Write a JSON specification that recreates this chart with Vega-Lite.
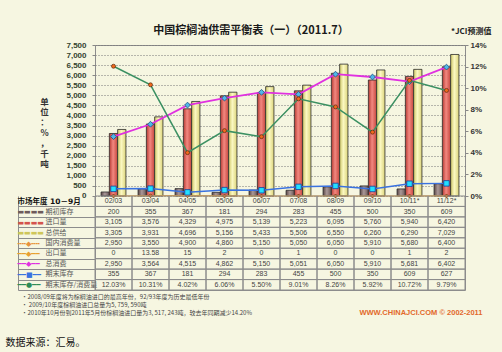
{
"$schema":"https://vega.github.io/schema/vega-lite/v6.json",
"width":370,"height":245,
"autosize":{"type":"none"},
"padding":{"left":95,"top":45,"right":37,"bottom":62},
"background":"#f6f6e1",
"title":{"text":"中国棕榈油供需平衡表（一）（2011.7）","font":"Noto Sans CJK SC","fontSize":11,"fontWeight":"bold","color":"#1a1a1a","anchor":"middle","dx":-29,"dy":15,"offset":6,"frame":"group"},
"config":{"view":{"fill":"#f6f6e1","stroke":"#8c8c8c","strokeWidth":1},"axis":{"labelFont":"Liberation Sans","titleFont":"Noto Sans CJK SC"}},
"datasets":{"d":[
{"年度":"02/03","项目":"期初库存","值":200},{"年度":"03/04","项目":"期初库存","值":355},{"年度":"04/05","项目":"期初库存","值":367},{"年度":"05/06","项目":"期初库存","值":181},{"年度":"06/07","项目":"期初库存","值":294},{"年度":"07/08","项目":"期初库存","值":283},{"年度":"08/09","项目":"期初库存","值":455},{"年度":"09/10","项目":"期初库存","值":500},{"年度":"10/11*","项目":"期初库存","值":350},{"年度":"11/12*","项目":"期初库存","值":609},
{"年度":"02/03","项目":"进口量","值":3105},{"年度":"03/04","项目":"进口量","值":3576},{"年度":"04/05","项目":"进口量","值":4329},{"年度":"05/06","项目":"进口量","值":4975},{"年度":"06/07","项目":"进口量","值":5139},{"年度":"07/08","项目":"进口量","值":5223},{"年度":"08/09","项目":"进口量","值":6095},{"年度":"09/10","项目":"进口量","值":5760},{"年度":"10/11*","项目":"进口量","值":5940},{"年度":"11/12*","项目":"进口量","值":6420},
{"年度":"02/03","项目":"总供给","值":3305},{"年度":"03/04","项目":"总供给","值":3931},{"年度":"04/05","项目":"总供给","值":4696},{"年度":"05/06","项目":"总供给","值":5156},{"年度":"06/07","项目":"总供给","值":5433},{"年度":"07/08","项目":"总供给","值":5506},{"年度":"08/09","项目":"总供给","值":6550},{"年度":"09/10","项目":"总供给","值":6260},{"年度":"10/11*","项目":"总供给","值":6290},{"年度":"11/12*","项目":"总供给","值":7029},
{"年度":"02/03","项目":"国内消费量","值":2950},{"年度":"03/04","项目":"国内消费量","值":3550},{"年度":"04/05","项目":"国内消费量","值":4900},{"年度":"05/06","项目":"国内消费量","值":4860},{"年度":"06/07","项目":"国内消费量","值":5150},{"年度":"07/08","项目":"国内消费量","值":5050},{"年度":"08/09","项目":"国内消费量","值":6050},{"年度":"09/10","项目":"国内消费量","值":5910},{"年度":"10/11*","项目":"国内消费量","值":5680},{"年度":"11/12*","项目":"国内消费量","值":6400},
{"年度":"02/03","项目":"出口量","值":0},{"年度":"03/04","项目":"出口量","值":13.58},{"年度":"04/05","项目":"出口量","值":15},{"年度":"05/06","项目":"出口量","值":2},{"年度":"06/07","项目":"出口量","值":0},{"年度":"07/08","项目":"出口量","值":1},{"年度":"08/09","项目":"出口量","值":0},{"年度":"09/10","项目":"出口量","值":0},{"年度":"10/11*","项目":"出口量","值":1},{"年度":"11/12*","项目":"出口量","值":2},
{"年度":"02/03","项目":"总消费","值":2950},{"年度":"03/04","项目":"总消费","值":3564},{"年度":"04/05","项目":"总消费","值":4515},{"年度":"05/06","项目":"总消费","值":4862},{"年度":"06/07","项目":"总消费","值":5150},{"年度":"07/08","项目":"总消费","值":5051},{"年度":"08/09","项目":"总消费","值":6050},{"年度":"09/10","项目":"总消费","值":5910},{"年度":"10/11*","项目":"总消费","值":5681},{"年度":"11/12*","项目":"总消费","值":6402},
{"年度":"02/03","项目":"期末库存","值":355},{"年度":"03/04","项目":"期末库存","值":367},{"年度":"04/05","项目":"期末库存","值":181},{"年度":"05/06","项目":"期末库存","值":294},{"年度":"06/07","项目":"期末库存","值":283},{"年度":"07/08","项目":"期末库存","值":455},{"年度":"08/09","项目":"期末库存","值":500},{"年度":"09/10","项目":"期末库存","值":350},{"年度":"10/11*","项目":"期末库存","值":609},{"年度":"11/12*","项目":"期末库存","值":627},
{"年度":"02/03","项目":"期末库存/消费量","值":0.1203},{"年度":"03/04","项目":"期末库存/消费量","值":0.1031},{"年度":"04/05","项目":"期末库存/消费量","值":0.0402},{"年度":"05/06","项目":"期末库存/消费量","值":0.0606},{"年度":"06/07","项目":"期末库存/消费量","值":0.055},{"年度":"07/08","项目":"期末库存/消费量","值":0.0901},{"年度":"08/09","项目":"期末库存/消费量","值":0.0826},{"年度":"09/10","项目":"期末库存/消费量","值":0.0592},{"年度":"10/11*","项目":"期末库存/消费量","值":0.1072},{"年度":"11/12*","项目":"期末库存/消费量","值":0.0979}
]},
"data":{"name":"d"},
"resolve":{"scale":{"x":"independent","y":"independent"}},
"layer":[
{
"encoding":{
"x":{"field":"年度","type":"nominal","scale":{"type":"band","domain":["02/03","03/04","04/05","05/06","06/07","07/08","08/09","09/10","10/11*","11/12*"],"paddingInner":0,"paddingOuter":0},
"axis":{"orient":"bottom","labels":false,"ticks":false,"domain":false,"grid":false,"title":["•2008/09年度将为棕榈油进口的最高年份，92/93年度为历史最低年份","• 2009/10年度棕榈油进口总量为5, 759, 590吨","•2010年10月份到2011年5月份棕榈油进口量为3, 517, 243吨，较去年同期减少14.20%"],"titleX":-74,"titleY":3,"titleAlign":"left","titleAnchor":"start","titleBaseline":"top","titleFontSize":6,"titleFontWeight":"normal","titleLineHeight":8,"titleColor":"#444"}},
"y":{"field":"值","type":"quantitative","scale":{"domain":[-4669,7500],"nice":false,"zero":false},
"axis":{"orient":"left","values":[0,500,1000,1500,2000,2500,3000,3500,4000,4500,5000,5500,6000,6500,7000,7500],"format":",d","domain":false,"tickSize":3,"tickColor":"#888","labelPadding":6,"labelFontSize":8,"labelFontWeight":"bold","labelColor":"#34432f","grid":true,"gridDash":[1,2],"gridColor":"#777","gridOpacity":1,
"title":["单","位","：","%","，","千","吨"],"titleAngle":0,"titleX":-51,"titleY":52,"titleAlign":"center","titleBaseline":"top","titleFontSize":8.5,"titleLineHeight":10.4,"titleFontWeight":"bold","titleColor":"#333"}}
},
"layer":[
{"transform":[{"filter":"datum['项目']==='期初库存'"}],"mark":{"type":"bar","color":{"gradient":"linear","x1":0,"x2":1,"y1":0,"y2":0,"stops":[{"offset":0,"color":"#5a4646"},{"offset":0.45,"color":"#aa9898"},{"offset":1,"color":"#6a5656"}]},"stroke":"#2b2b2b","strokeWidth":0.8},
"encoding":{"xOffset":{"field":"项目","type":"nominal","scale":{"domain":["期初库存","进口量","总供给"],"paddingInner":0,"paddingOuter":0.73}},"y2":{"datum":0}}},
{"transform":[{"filter":"datum['项目']==='进口量'"}],"mark":{"type":"bar","color":{"gradient":"linear","x1":0,"x2":1,"y1":0,"y2":0,"stops":[{"offset":0,"color":"#b63a33"},{"offset":0.45,"color":"#f28880"},{"offset":1,"color":"#c6463e"}]},"stroke":"#2b2b2b","strokeWidth":0.8},
"encoding":{"xOffset":{"field":"项目","type":"nominal"},"y2":{"datum":0}}},
{"transform":[{"filter":"datum['项目']==='总供给'"}],"mark":{"type":"bar","color":{"gradient":"linear","x1":0,"x2":1,"y1":0,"y2":0,"stops":[{"offset":0,"color":"#cfc768"},{"offset":0.45,"color":"#fbf8c2"},{"offset":1,"color":"#dcd47a"}]},"stroke":"#2b2b2b","strokeWidth":0.8},
"encoding":{"xOffset":{"field":"项目","type":"nominal"},"y2":{"datum":0}}},
{"transform":[{"filter":"datum['项目']==='出口量'"}],"mark":{"type":"line","color":"#f0a030","strokeWidth":1.2,"point":{"shape":"diamond","filled":true,"fill":"#e8701c","stroke":"#4a2a10","strokeWidth":0.6,"size":16}}},
{"transform":[{"filter":"datum['项目']==='总消费'"}],"mark":{"type":"line","color":"#e030e0","strokeWidth":1.8,"point":{"shape":"diamond","filled":true,"fill":"#4fb8e8","stroke":"#1d4f80","strokeWidth":0.8,"size":34}}},
{"transform":[{"filter":"datum['项目']==='期末库存'"}],"mark":{"type":"line","color":"#3a72e0","strokeWidth":1.5,"point":{"shape":"square","filled":true,"fill":"#22e0ff","stroke":"#1040a0","strokeWidth":0.8,"size":30}}}
]
},
{
"transform":[{"filter":"datum['项目']==='期末库存/消费量'"}],
"mark":{"type":"line","color":"#3b9062","strokeWidth":1.5,"point":{"shape":"circle","filled":true,"fill":"#f26a1c","stroke":"#5a2a10","strokeWidth":0.7,"size":16}},
"encoding":{
"x":{"field":"年度","type":"nominal","scale":{"type":"band","domain":["02/03","03/04","04/05","05/06","06/07","07/08","08/09","09/10","10/11*","11/12*"],"paddingInner":0,"paddingOuter":0},
"axis":{"orient":"bottom","labels":false,"ticks":false,"domain":false,"grid":false,"title":"WWW.CHINAJCI.COM © 2002-2011","titleX":387,"titleY":22,"titleAlign":"right","titleAnchor":"end","titleBaseline":"middle","titleFont":"Liberation Sans","titleFontSize":7.5,"titleFontWeight":"bold","titleColor":"#e2692b"}},
"y":{"field":"值","type":"quantitative","scale":{"domain":[-0.08715,0.14],"nice":false,"zero":false},
"axis":{"orient":"right","values":[0,0.02,0.04,0.06,0.08,0.1,0.12,0.14],"format":".0%","grid":false,"domain":false,"tickSize":3,"tickColor":"#888","labelPadding":2,"labelFontSize":8,"labelFontWeight":"bold","labelColor":"#333",
"title":"*JCI预测值","titleAngle":0,"titleX":26,"titleY":-14,"titleAlign":"right","titleBaseline":"middle","titleFontSize":8,"titleFontWeight":"bold","titleColor":"#222"}}
}
},
{
"encoding":{
"x":{"field":"年度","type":"nominal","scale":{"type":"band","domain":["02/03","03/04","04/05","05/06","06/07","07/08","08/09","09/10","10/11*","11/12*"],"paddingInner":0,"paddingOuter":0},
"axis":{"orient":"bottom","labels":false,"ticks":false,"domain":false,"grid":false,"title":"数据来源：汇易。","titleX":-90,"titleY":52,"titleAlign":"left","titleAnchor":"start","titleBaseline":"middle","titleFontSize":10,"titleFontWeight":"normal","titleColor":"#111"}},
"y":{"field":"项目","type":"nominal","scale":{"type":"band","domain":["市场年度 10－9月","期初库存","进口量","总供给","国内消费量","出口量","总消费","期末库存","期末库存/消费量"],"paddingInner":0,"paddingOuter":0,"range":[151,245]},
"axis":{"orient":"left","offset":77,"domain":true,"domainColor":"#8c8c8c","ticks":false,"grid":false,"title":null,"labelExpr":"datum.value==='市场年度 10－9月'?'':datum.value","labelAlign":"left","labelPadding":-27,"labelFont":"Noto Sans CJK SC","labelFontSize":7,"labelColor":"#555","labelBaseline":"middle"}}
},
"layer":[
{"transform":[{"filter":"datum['项目']!=='期末库存/消费量'"}],"mark":{"type":"text","font":"Liberation Sans","fontSize":7,"color":"#444"},"encoding":{"text":{"field":"值","type":"quantitative","format":","}}},
{"transform":[{"filter":"datum['项目']==='期末库存/消费量'"}],"mark":{"type":"text","font":"Liberation Sans","fontSize":7,"color":"#444"},"encoding":{"text":{"field":"值","type":"quantitative","format":".2%"}}},
{"transform":[{"filter":"datum['项目']==='期初库存'"}],"mark":{"type":"text","font":"Liberation Sans","fontSize":7,"color":"#444"},"encoding":{"y":{"datum":"市场年度 10－9月"},"text":{"field":"年度","type":"nominal"}}}
]
},
{
"encoding":{
"x":{"field":"年度","type":"nominal","scale":{"type":"band","domain":["02/03","03/04","04/05","05/06","06/07","07/08","08/09","09/10","10/11*","11/12*"],"paddingInner":0,"paddingOuter":0},"axis":null},
"y":{"field":"项目","type":"nominal","scale":{"type":"band","domain":["市场年度 10－9月","期初库存","进口量","总供给","国内消费量","出口量","总消费","期末库存","期末库存/消费量"],"paddingInner":0,"paddingOuter":0,"range":[151,245]},
"axis":{"orient":"left","domain":false,"grid":false,"ticks":true,"tickSize":77,"tickOffset":5.222,"labelOffset":-5.222,"tickColor":"#8c8c8c","title":null,
"labelExpr":"datum.value==='期初库存'||datum.value==='进口量'||datum.value==='总供给'?'▬▬▬▬':datum.value==='国内消费量'?'╍╍◆╍╍':datum.value==='期末库存'?'━━■━━':datum.value==='期末库存/消费量'?'━━●━━':datum.value==='市场年度 10－9月'?datum.value:'━━◆━━'",
"labelAlign":"left","labelPadding":1,"labelBaseline":"middle","labelFont":"DejaVu Sans, Noto Sans CJK SC",
"labelFontSize":{"condition":{"test":"datum.value==='市场年度 10－9月'","value":7.5},"value":7},
"labelFontWeight":{"condition":{"test":"datum.value==='市场年度 10－9月'","value":"bold"},"value":"normal"},
"labelColor":{"condition":[{"test":"datum.value==='期初库存'","value":"#6e5a5a"},{"test":"datum.value==='进口量'","value":"#d4544c"},{"test":"datum.value==='总供给'","value":"#cfc65a"},{"test":"datum.value==='国内消费量'","value":"#e8923a"},{"test":"datum.value==='出口量'","value":"#e8a030"},{"test":"datum.value==='总消费'","value":"#e030e0"},{"test":"datum.value==='期末库存'","value":"#3a72e0"},{"test":"datum.value==='期末库存/消费量'","value":"#2e8b57"}],"value":"#111"}}}
},
"layer":[
{"mark":{"type":"rect","fill":"transparent","stroke":"#8c8c8c","strokeWidth":1}},
{"transform":[{"filter":"datum['项目']==='期初库存'"}],"mark":{"type":"rect","fill":"transparent","stroke":"#8c8c8c","strokeWidth":1},"encoding":{"y":{"datum":"市场年度 10－9月"}}}
]
}
]
}
